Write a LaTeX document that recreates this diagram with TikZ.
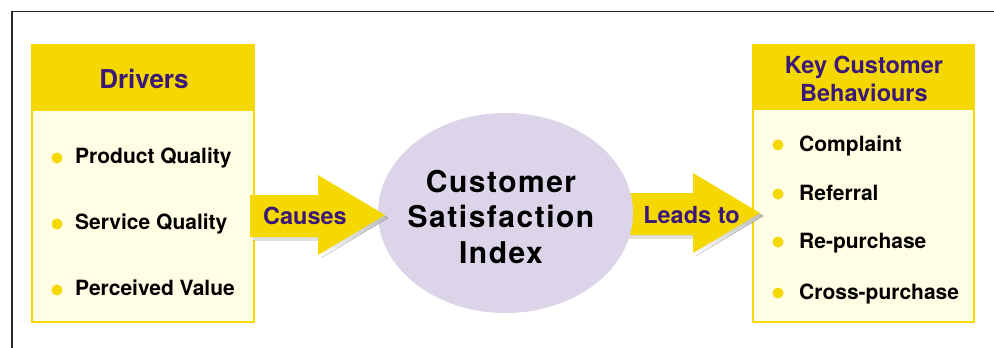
\documentclass[tikz,border=0pt]{standalone}
\usepackage{fontspec}
\setmainfont{TeX Gyre Heros}
\usetikzlibrary{shapes}

\definecolor{gold}{HTML}{F5D800}
\definecolor{cream}{HTML}{FFFDE4}
\definecolor{indigo}{HTML}{3B1877}
\definecolor{lilac}{HTML}{DCD4E8}
\definecolor{shade}{HTML}{A8A8A8}

\tikzset{
  boxhead/.style={inner sep=0pt, text=indigo, align=center},
  item/.style={anchor=base west, inner sep=0pt, font=\bfseries\fontsize{21}{24}\selectfont},
  dot/.style={fill=gold, draw=none},
  flow/.style={inner sep=0pt, anchor=base, text=indigo, font=\bfseries\fontsize{23.5}{28}\selectfont},
}

\begin{document}
\begin{tikzpicture}[x=1pt,y=-1pt]
\useasboundingbox (0,0) rectangle (994,348);
\draw[line width=1.8pt, black!85] (12,348) -- (12,11.5) -- (994,11.5);

% left box
\draw[line width=2pt, gold, fill=cream] (32,45) rectangle (254,322);
\fill[gold] (32,45) rectangle (254,111);
\node[boxhead, font=\bfseries\fontsize{26}{30}\selectfont, anchor=base] (drivers) at (144,88) {Drivers};
\fill[dot] (57,158) circle (5.5);
\fill[dot] (57,224) circle (5.5);
\fill[dot] (57,290) circle (5.5);
\node[item] (product) at (75,163.5) {Product Quality};
\node[item] (service) at (75,229.5) {Service Quality};
\node[item] (perceived) at (75,295.5) {Perceived Value};

% right box
\draw[line width=2pt, gold, fill=cream] (753,45) rectangle (974,322);
\fill[gold] (753,45) rectangle (974,110);
\node[boxhead, font=\bfseries\fontsize{23.5}{28}\selectfont] (behaviours) at (864,79) {Key Customer\\Behaviours};
\fill[dot] (778,145) circle (5.5);
\fill[dot] (778,194) circle (5.5);
\fill[dot] (778,242) circle (5.5);
\fill[dot] (778,293) circle (5.5);
\node[item] (complaint) at (799,151) {Complaint};
\node[item] (referral) at (799,200) {Referral};
\node[item] (repurchase) at (799,248) {Re-purchase};
\node[item] (cross) at (799,299) {Cross-purchase};

% arrow into the right box (sits under the ellipse)
\fill[shade, shift={(3,3)}] (620,193) -- (693,193) -- (693,173) -- (760,213) -- (693,253) -- (693,235) -- (620,235) -- cycle;
\fill[gold] (620,193) -- (693,193) -- (693,173) -- (760,213) -- (693,253) -- (693,235) -- (620,235) -- cycle;

% centre
\node[ellipse, fill=lilac, minimum width=255, minimum height=200, inner sep=0pt] (csi) at (505.5,213) {};
\node[inner sep=0pt, align=center, font=\bfseries\fontsize{30}{35.6}\selectfont\addfontfeature{LetterSpace=5}] (csitext) at (501,217) {Customer\\Satisfaction\\Index};

% arrow out of the left box
\fill[shade, shift={(3,3)}] (250,195) -- (318,195) -- (318,175) -- (385,215) -- (318,255) -- (318,237) -- (250,237) -- cycle;
\fill[gold] (250,195) -- (318,195) -- (318,175) -- (385,215) -- (318,255) -- (318,237) -- (250,237) -- cycle;

\node[flow] (causes) at (305,224) {Causes};
\node[flow] (leads) at (691.5,223) {Leads to};
\end{tikzpicture}
\end{document}
